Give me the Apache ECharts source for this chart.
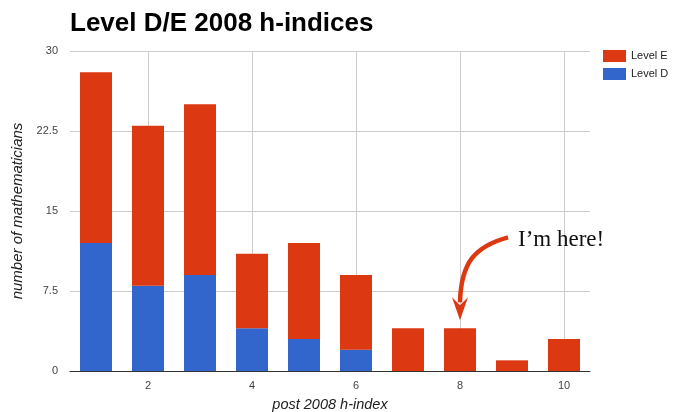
<!DOCTYPE html>
<html>
<head>
<meta charset="utf-8">
<script src="https://cdn.jsdelivr.net/npm/echarts@6/dist/echarts.min.js"></script>
<style>
  html, body { margin: 0; padding: 0; background: #fff; }
  #chart { width: 676px; height: 412px; }
</style>
</head>
<body>
<div id="chart"></div>
<script>
// post 2008 h-index categories
const hIndex = [1, 2, 3, 4, 5, 6, 7, 8, 9, 10];
const levelD = [12, 8, 9, 4, 3, 2, 0, 0, 0, 0];
const levelE = [16, 15, 16, 7, 9, 7, 4, 4, 1, 3];
const xTicks = [2, 4, 6, 8, 10];
const markedIndex = 8; // "I'm here!"

const font = '"Liberation Sans", Arial, sans-serif';
const red = '#dc3912';
const blue = '#3366cc';

const chart = echarts.init(document.getElementById('chart'));

let option = {
  animation: false,
  title: {
    text: 'Level D/E 2008 h-indices',
    left: 70,
    top: 11,
    padding: 0,
    textStyle: { fontFamily: font, fontSize: 26, fontWeight: 'bold', color: '#000' }
  },
  legend: {
    orient: 'vertical',
    left: 603,
    top: 50,
    padding: 0,
    itemWidth: 23,
    itemHeight: 12,
    itemGap: 6,
    icon: 'rect',
    data: ['Level E', 'Level D'],
    textStyle: { fontFamily: font, fontSize: 11, color: '#222' }
  },
  grid: { left: 70, right: 86, top: 51, bottom: 41, outerBoundsMode: 'none' },
  xAxis: [
    {
      // bars sit on the category axis
      type: 'category',
      data: hIndex,
      axisLine: { show: false },
      axisTick: { show: false },
      axisLabel: { show: false },
      splitLine: { show: false }
    },
    {
      // same span, used for the labels and vertical grid lines
      type: 'value',
      position: 'bottom',
      min: 0.5,
      max: 10.5,
      name: 'post 2008 h-index',
      nameLocation: 'middle',
      nameGap: 26,
      nameTextStyle: { fontFamily: font, fontSize: 14.5, fontStyle: 'italic', color: '#222' },
      axisLine: { show: true, onZero: false, lineStyle: { color: '#333', width: 1 } },
      axisTick: { show: false, customValues: xTicks },
      axisLabel: { customValues: xTicks, margin: 9, fontFamily: font, fontSize: 11, color: '#444' },
      splitLine: { show: true, lineStyle: { color: '#ccc', width: 1 } }
    }
  ],
  yAxis: {
    type: 'value',
    min: 0,
    max: 30,
    interval: 7.5,
    name: 'number of mathematicians',
    nameLocation: 'middle',
    nameGap: 42,
    nameTextStyle: { fontFamily: font, fontSize: 15, fontStyle: 'italic', color: '#222' },
    axisLine: { show: false },
    axisTick: { show: false },
    axisLabel: { margin: 12, fontFamily: font, fontSize: 11, color: '#444' },
    splitLine: { show: true, lineStyle: { color: '#ccc', width: 1 } }
  },
  series: [
    {
      name: 'Level D',
      type: 'bar',
      stack: 'total',
      xAxisIndex: 0,
      barWidth: 32,
      itemStyle: { color: blue },
      data: levelD
    },
    {
      name: 'Level E',
      type: 'bar',
      stack: 'total',
      xAxisIndex: 0,
      barWidth: 32,
      itemStyle: { color: red },
      data: levelE
    }
  ]
};

chart.setOption(option);

// annotation arrow pointing at the marked bar
const i = hIndex.indexOf(markedIndex);
const tip = chart.convertToPixel({ xAxisIndex: 0, yAxisIndex: 0 }, [i, levelD[i] + levelE[i]]);
const tx = tip[0], ty = tip[1] - 8;

chart.setOption({
  graphic: [
    {
      type: 'bezierCurve',
      shape: {
        x1: tx + 48, y1: ty - 83,
        cpx1: tx + 15, cpy1: ty - 74,
        cpx2: tx + 1, cpy2: ty - 58,
        x2: tx, y2: ty - 18
      },
      style: { stroke: red, lineWidth: 4.5, fill: null }
    },
    {
      type: 'polygon',
      shape: { points: [[tx - 8, ty - 23], [tx, ty], [tx + 8, ty - 23], [tx, ty - 15]] },
      style: { fill: red }
    },
    {
      type: 'text',
      left: tx + 58,
      top: ty - 92,
      style: { text: 'I\u2019m here!', font: '23px "Liberation Serif", "Times New Roman", serif', fill: '#111' }
    }
  ]
});
</script>
</body>
</html>
